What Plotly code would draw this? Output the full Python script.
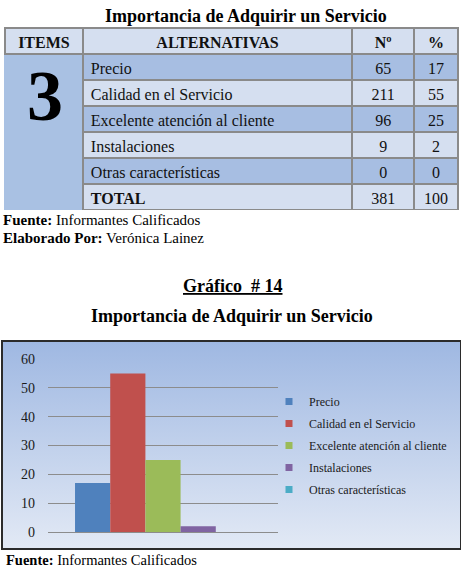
import plotly.graph_objects as go

# ---------------- data ----------------
encabezados = ["ITEMS", "ALTERNATIVAS", "Nº", "%"]
item = "3"
alternativas = ["Precio", "Calidad en el Servicio", "Excelente atención al cliente",
                "Instalaciones", "Otras características"]
frecuencia = [65, 211, 96, 9, 0]
porcentaje = [17, 55, 25, 2, 0]
total_label = "TOTAL"
total_frecuencia = 381
total_porcentaje = 100
y_ticks = [0, 10, 20, 30, 40, 50, 60]

titulo = "Importancia de Adquirir un Servicio"
grafico = "Gráfico  # 14"
fuente = "Informantes Calificados"
elaborado = "Verónica Lainez"

# ---------------- styling ----------------
W, H = 461, 569
FONT = "Liberation Serif"
bar_colors = ["#4f81bd", "#c0504d", "#9bbb59", "#8064a2", "#4bacc6"]
dark = "#a7bee2"
light = "#d5dff0"
items_fill = "#a9c1e3"
border = "#8a8a8a"
colw = [78, 270, 62, 44]
ROW = 26


def fx(p):
    return p / W


def fy(p):
    return 1 - p / H


fig = go.Figure()

# ---------------- table (header + item rows) ----------------
n = len(alternativas)
row_fill = [dark if i % 2 == 0 else light for i in range(n)]
tbl_x = [fx(5), fx(459)]
top = 28
body_bottom = top + ROW * (n + 1)
fig.add_trace(go.Table(
    domain=dict(x=tbl_x, y=[fy(body_bottom + 1), fy(top)]),
    columnwidth=colw,
    header=dict(
        values=encabezados,
        fill_color=light,
        line=dict(color=border, width=2),
        align="center",
        height=ROW,
        font=dict(family=FONT, size=16, color="#111", weight="bold"),
    ),
    cells=dict(
        values=[[""] * n, alternativas, frecuencia, porcentaje],
        fill_color=[[items_fill] * n, row_fill, row_fill, row_fill],
        line=dict(color=[[items_fill] * n, [border] * n, [border] * n, [border] * n], width=2),
        align=["center", "left", "center", "center"],
        height=ROW,
        font=dict(family=FONT, size=16, color="#111"),
    ),
))

# ---------------- total row ----------------
total_top = body_bottom
fig.add_trace(go.Table(
    domain=dict(x=tbl_x, y=[fy(total_top + ROW + 1), fy(total_top)]),
    columnwidth=colw,
    header=dict(
        values=["", total_label, total_frecuencia, total_porcentaje],
        fill_color=[items_fill, light, light, light],
        line=dict(color=[items_fill, border, border, border], width=2),
        align=["center", "left", "center", "center"],
        height=ROW,
        font=dict(family=FONT, size=16, color="#111",
                  weight=["normal", "bold", "normal", "normal"]),
    ),
    cells=dict(values=[]),
))

# ---------------- chart background (gradient box) ----------------
fig.add_trace(go.Scatter(
    x=[0, 1, 1, 0, 0], y=[0, 0, 1, 1, 0], xaxis="x", yaxis="y",
    mode="lines", line=dict(width=0), fill="toself",
    fillgradient=dict(type="vertical", start=0, stop=1,
                      colorscale=[[0, "#e2e9f5"], [1, "#9fb8e2"]]),
    hoverinfo="skip", showlegend=False,
))

# ---------------- bars ----------------
for name, val, col in zip(alternativas, porcentaje, bar_colors):
    fig.add_trace(go.Bar(
        x=[""], y=[val], name=name, marker=dict(color=col, line=dict(width=0)),
        xaxis="x2", yaxis="y2", showlegend=False,
    ))
    fig.add_trace(go.Scatter(
        x=[None], y=[None], name=name, mode="markers", legendgroup=name,
        marker=dict(symbol="square", size=7, color=col),
        xaxis="x2", yaxis="y2",
    ))

fig.update_layout(
    width=W, height=H,
    margin=dict(l=0, r=0, t=0, b=0, autoexpand=False),
    paper_bgcolor="white",
    plot_bgcolor="rgba(0,0,0,0)",
    barmode="group", bargap=0.235, bargroupgap=0,
    showlegend=True,
    legend=dict(
        x=fx(269), y=fy(387), xanchor="left", yanchor="top",
        bgcolor="rgba(0,0,0,0)", borderwidth=0,
        font=dict(family=FONT, size=12, color="#1a1a1a"),
        traceorder="grouped", tracegroupgap=3,
    ),
    xaxis=dict(domain=[fx(3), fx(460)], range=[0, 1], visible=True, automargin=False,
               showgrid=False, zeroline=False, showticklabels=False, ticks="",
               showline=True, mirror=True, linecolor="#2b2b2b", linewidth=1.5),
    yaxis=dict(domain=[fy(548), fy(342)], range=[0, 1], anchor="x", automargin=False,
               showgrid=False, zeroline=False, showticklabels=False, ticks="",
               showline=True, mirror=True, linecolor="#2b2b2b", linewidth=1.5),
    xaxis2=dict(domain=[fx(48), fx(278)], anchor="y2", showgrid=False, automargin=False,
                zeroline=False, showticklabels=False, ticks="", showline=False),
    yaxis2=dict(domain=[fy(532), fy(359)], anchor="x2", range=[0, 60], automargin=False,
                tickvals=y_ticks, showgrid=True, gridcolor="#8c8c8c", gridwidth=1,
                zeroline=True, zerolinecolor="#8c8c8c", zerolinewidth=1,
                ticks="", ticklabelstandoff=12,
                tickfont=dict(family=FONT, size=14, color="#1a1a1a")),
    font=dict(family=FONT, color="#000"),
)

# ---------------- texts ----------------
def note(text, x, y, size, anchor="center"):
    fig.add_annotation(text=text, x=x, y=y, xref="paper", yref="paper",
                       xanchor=anchor, yanchor="middle", showarrow=False,
                       font=dict(family=FONT, size=size, color="#000"))


note(f"<b>{titulo}</b>", fx(246), fy(16), 18)
note(f"<b>{item}</b>", fx(45), fy(96), 72)
note(f"<b>Fuente:</b> {fuente}", fx(1), fy(220), 15, "left")
note(f"<b>Elaborado Por:</b> {elaborado}", fx(1), fy(238), 15, "left")
note(f"<b><u>{grafico}</u></b>", fx(232), fy(286), 18)
note(f"<b>{titulo}</b>", fx(232), fy(316), 18)
note(f"<b>Fuente:</b> {fuente}", fx(4), fy(560), 14.5, "left")

fig.write_html("out.html")
